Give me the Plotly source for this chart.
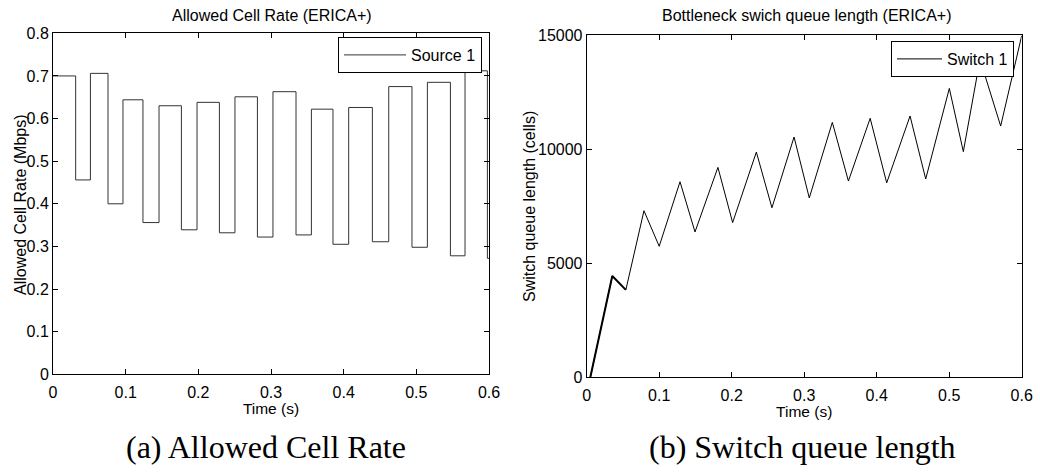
import plotly.graph_objects as go

# ---------------- data ----------------
# (a) Allowed Cell Rate (step changes)
acr_time = [0, 0.0312, 0.0515, 0.0757, 0.0963, 0.1238, 0.1459, 0.1767, 0.1982, 0.229,
            0.2504, 0.2813, 0.3027, 0.3344, 0.3556, 0.3853, 0.4069, 0.4395, 0.462,
            0.494, 0.5152, 0.5469, 0.567, 0.5978, 0.6]
acr_rate = [0.700, 0.456, 0.706, 0.400, 0.644, 0.356, 0.630, 0.339, 0.638, 0.332,
            0.651, 0.322, 0.663, 0.327, 0.622, 0.305, 0.626, 0.311, 0.675, 0.298,
            0.685, 0.278, 0.712, 0.272, 0.272]

# (b) Switch queue length
q_time = [0.005, 0.0353, 0.054, 0.079, 0.100, 0.1287, 0.1494, 0.181, 0.2013, 0.2340,
          0.2555, 0.286, 0.307, 0.3388, 0.361, 0.391, 0.4138, 0.446, 0.4676, 0.5002,
          0.5195, 0.5425, 0.571, 0.6]
q_len = [0, 4440, 3830, 7300, 5740, 8570, 6370, 9200, 6780, 9870,
         7430, 10530, 7860, 11170, 8600, 11350, 8520, 11450, 8690, 12660,
         9890, 13930, 11010, 14970]
q_thick_n = 3  # initial noisy segment drawn thicker

x_ticks = [0, 0.1, 0.2, 0.3, 0.4, 0.5, 0.6]
x_ticktext = ["0", "0.1", "0.2", "0.3", "0.4", "0.5", "0.6"]
acr_ticks = [0, 0.1, 0.2, 0.3, 0.4, 0.5, 0.6, 0.7, 0.8]
acr_ticktext = ["0", "0.1", "0.2", "0.3", "0.4", "0.5", "0.6", "0.7", "0.8"]
q_ticks = [0, 5000, 10000, 15000]
q_ticktext = ["0", "5000", "10000", "15000"]

titles = ["Allowed Cell Rate (ERICA+)", "Bottleneck swich queue length (ERICA+)"]
captions = ["(a) Allowed Cell Rate", "(b) Switch queue length"]
series_names = ["Source 1", "Switch 1"]
x_title = "Time (s)"
y_titles = ["Allowed Cell Rate (Mbps)", "Switch queue length (cells)"]

# ---------------- figure ----------------
FONT = "Liberation Sans, Arial, sans-serif"
SERIF = "Liberation Serif, Times New Roman, serif"
W, H = 1040, 475
ML, MR, MT, MB = 53, 18, 33, 97
PW, PH = W - ML - MR, H - MT - MB

def fx(px):
    return (px - ML) / PW

def fy(py):
    return (H - MB - py) / PH

def clamp(v):
    return min(1.0, max(0.0, v))

fig = go.Figure()

fig.add_trace(go.Scatter(
    x=acr_time, y=acr_rate, mode="lines", line_shape="hv",
    line=dict(color="#333333", width=1), name=series_names[0],
    xaxis="x", yaxis="y", legend="legend"))

fig.add_trace(go.Scatter(
    x=q_time, y=q_len, mode="lines",
    line=dict(color="#000000", width=1), name=series_names[1],
    xaxis="x2", yaxis="y2", legend="legend2"))
fig.add_trace(go.Scatter(
    x=q_time[:q_thick_n], y=q_len[:q_thick_n], mode="lines",
    line=dict(color="#000000", width=2), showlegend=False,
    xaxis="x2", yaxis="y2", hoverinfo="skip"))

axis_common = dict(showline=True, linecolor="black", linewidth=1, mirror="ticks",
                   ticks="inside", ticklen=5, tickcolor="black", showgrid=False,
                   zeroline=False, tickfont=dict(family=FONT, size=16, color="black"))

fig.update_layout(
    width=W, height=H,
    margin=dict(l=ML, r=MR, t=MT, b=MB, autoexpand=False),
    paper_bgcolor="white", plot_bgcolor="white",
    font=dict(family=FONT, size=16, color="black"),
    xaxis=dict(domain=[clamp(fx(53)), clamp(fx(489))], range=[0, 0.6], anchor="y",
               tickvals=x_ticks, ticktext=x_ticktext, ticklabelstandoff=3,
               title=dict(text=x_title, font=dict(size=15.5), standoff=2), **axis_common),
    yaxis=dict(domain=[clamp(fy(374.3)), clamp(fy(33.3))], range=[0, 0.8], anchor="x",
               tickvals=acr_ticks, ticktext=acr_ticktext, **axis_common),
    xaxis2=dict(domain=[clamp(fx(586.7)), clamp(fx(1021.7))], range=[0, 0.6], anchor="y2",
                tickvals=x_ticks, ticktext=x_ticktext, ticklabelstandoff=3,
                title=dict(text=x_title, font=dict(size=15.5), standoff=2), **axis_common),
    yaxis2=dict(domain=[clamp(fy(377.3)), clamp(fy(35))], range=[0, 15000], anchor="x2",
                tickvals=q_ticks, ticktext=q_ticktext, **axis_common),
    legend=dict(x=fx(482), y=fy(37), xanchor="right", yanchor="top",
                bgcolor="white", bordercolor="black", borderwidth=1,
                font=dict(family=FONT, size=16), itemwidth=62),
    legend2=dict(x=fx(1014), y=fy(41), xanchor="right", yanchor="top",
                 bgcolor="white", bordercolor="black", borderwidth=1,
                 font=dict(family=FONT, size=16), itemwidth=45),
    showlegend=True,
)

# y-axis titles
fig.add_annotation(x=fx(20), y=fy(205), xref="paper", yref="paper", text=y_titles[0],
                   textangle=-90, showarrow=False, font=dict(family=FONT, size=16),
                   xanchor="center", yanchor="middle")
fig.add_annotation(x=fx(529), y=fy(207), xref="paper", yref="paper", text=y_titles[1],
                   textangle=-90, showarrow=False, font=dict(family=FONT, size=16),
                   xanchor="center", yanchor="middle")
# subplot titles
fig.add_annotation(x=fx(272), y=fy(16), xref="paper", yref="paper", text=titles[0],
                   showarrow=False, font=dict(family=FONT, size=16), xanchor="center", yanchor="middle")
fig.add_annotation(x=fx(806), y=fy(15), xref="paper", yref="paper", text=titles[1],
                   showarrow=False, font=dict(family=FONT, size=16), xanchor="center", yanchor="middle")
# captions
fig.add_annotation(x=fx(266), y=fy(447), xref="paper", yref="paper", text=captions[0],
                   showarrow=False, font=dict(family=SERIF, size=32), xanchor="center", yanchor="middle")
fig.add_annotation(x=fx(802), y=fy(447), xref="paper", yref="paper", text=captions[1],
                   showarrow=False, font=dict(family=SERIF, size=32), xanchor="center", yanchor="middle")

fig.write_html("out.html")
